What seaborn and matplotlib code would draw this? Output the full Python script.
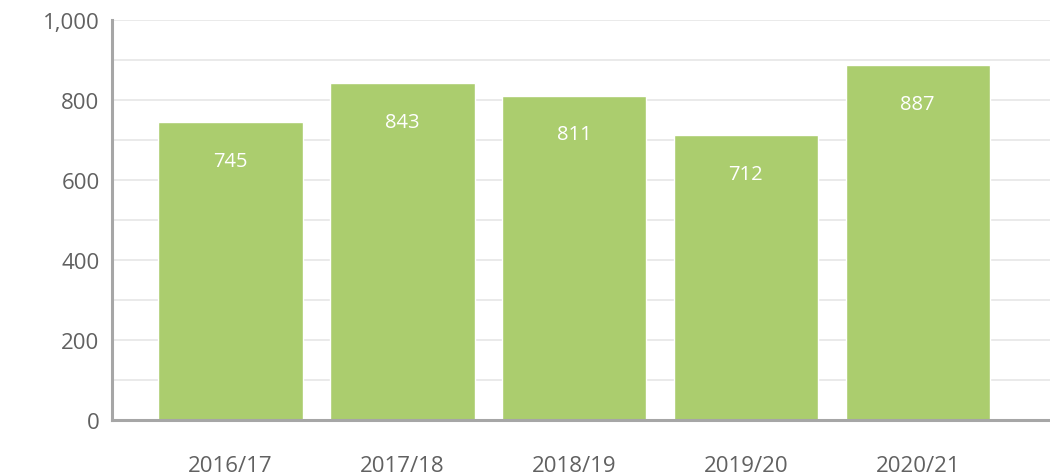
import matplotlib
matplotlib.use("Agg")
import matplotlib.pyplot as plt
from matplotlib.ticker import FuncFormatter, MultipleLocator
import seaborn as sns
import pandas as pd

# данные
years = ["2016/17", "2017/18", "2018/19", "2019/20", "2020/21"]
values = [745, 843, 811, 712, 887]

BAR_COLOR = "#abcd6e"
TEXT_COLOR = "#616161"
SPINE_COLOR = "#a6a6a6"

sns.set_style("white")
plt.rcParams["font.family"] = ["Open Sans", "DejaVu Sans"]

df = pd.DataFrame({"year": years, "value": values})

fig = plt.figure(figsize=(10.5, 4.77), dpi=100)
ax = fig.add_axes([0.1067, 0.1174, 0.8933, 0.8386])

sns.barplot(data=df, x="year", y="value", color=BAR_COLOR, width=0.84,
            saturation=1, ax=ax, zorder=3)

# подписи внутри столбцов
for i, v in enumerate(values):
    ax.text(i, v - 97, f"{v:,}", ha="center", va="center",
            color="white", fontsize=14.5, zorder=4)

ax.set_ylim(0, 1000)
ax.set_xlim(-0.69, 4.77)
ax.yaxis.set_major_locator(MultipleLocator(200))
ax.yaxis.set_minor_locator(MultipleLocator(100))
ax.yaxis.set_major_formatter(FuncFormatter(lambda v, p: f"{int(v):,}"))
ax.grid(axis="y", which="both", color="#e6e6e6", linewidth=1.2, zorder=0)
ax.set_axisbelow(True)

ax.set_xlabel("")
ax.set_ylabel("")
ax.tick_params(axis="both", length=0, labelsize=16, colors=TEXT_COLOR)
ax.tick_params(axis="x", pad=25)
ax.tick_params(axis="y", pad=9)

for s in ["top", "right"]:
    ax.spines[s].set_visible(False)
for s in ["left", "bottom"]:
    ax.spines[s].set_color(SPINE_COLOR)
    ax.spines[s].set_linewidth(2.2)
    ax.spines[s].set_zorder(5)

fig.savefig("out.png", dpi=100)
plt.close(fig)
